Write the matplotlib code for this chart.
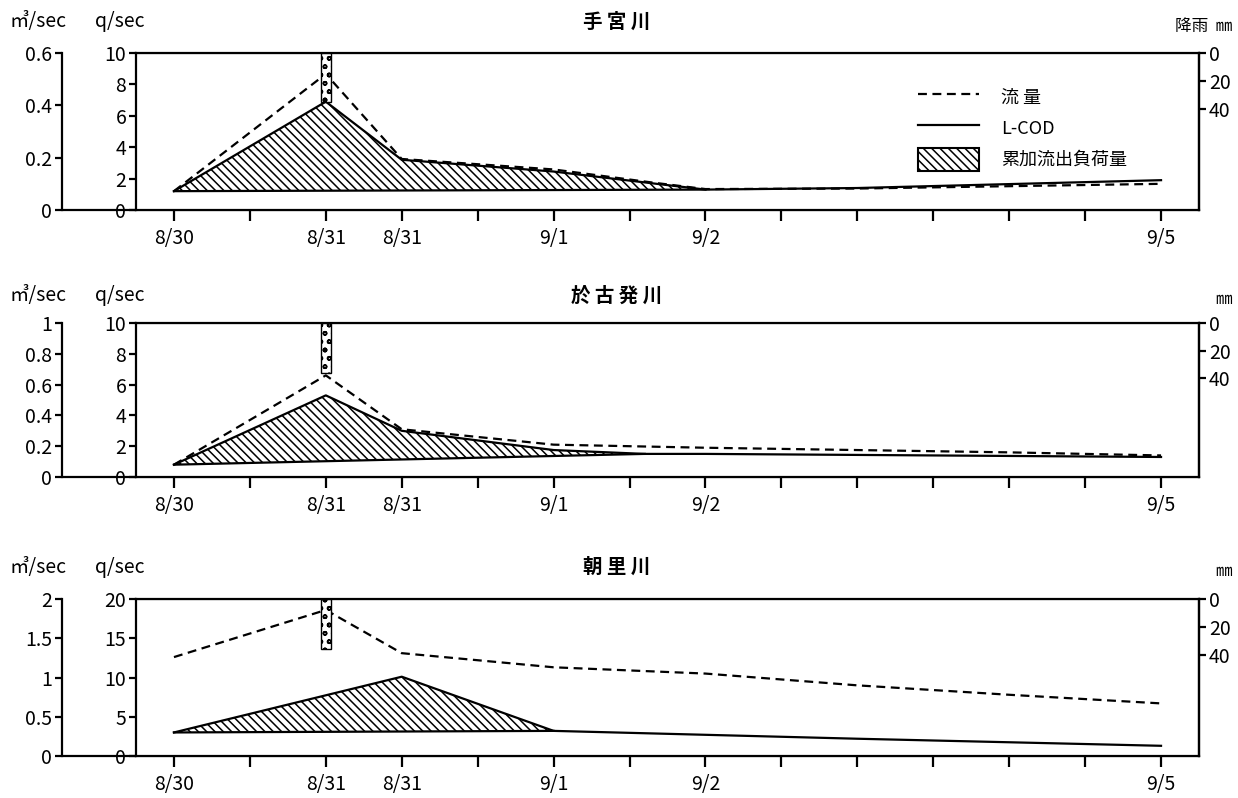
import matplotlib.pyplot as plt
import numpy as np
from matplotlib.lines import Line2D
from matplotlib.patches import Patch

plt.rcParams['font.family'] = ['Noto Sans CJK JP', 'DejaVu Sans']
plt.rcParams['hatch.linewidth'] = 1.1

# x positions are tick steps along the date axis (8/30 = 0 ... 9/5 = 13)
tick_pos = np.arange(14)
tick_labels = ['8/30', '', '8/31', '8/31', '', '9/1', '', '9/2',
               '', '', '', '', '', '9/5']

# 手宮川
temiya_cod_x = [0, 2, 3, 5, 6.3, 7, 9, 13]
temiya_cod = [1.2, 6.9, 3.2, 2.45, 1.7, 1.3, 1.4, 1.9]
temiya_base_x = [0, 7]
temiya_base = [1.2, 1.3]
temiya_flow_x = [0, 2, 3, 5, 6.3, 7, 9, 13]
temiya_flow = [0.072, 0.52, 0.195, 0.155, 0.105, 0.08, 0.082, 0.1]
temiya_rain = 35

# 於古発川
okoppe_cod_x = [0, 2, 3, 5, 6.2, 7, 10, 13]
okoppe_cod = [0.8, 5.3, 3.0, 1.75, 1.5, 1.5, 1.4, 1.3]
okoppe_base_x = [0, 6.2]
okoppe_base = [0.8, 1.5]
okoppe_flow_x = [0, 2, 3, 5, 7, 9, 11, 13]
okoppe_flow = [0.08, 0.66, 0.31, 0.21, 0.19, 0.175, 0.16, 0.14]
okoppe_rain = 36

# 朝里川
asari_cod_x = [0, 3, 5, 7, 9, 13]
asari_cod = [3.0, 10.1, 3.2, 2.7, 2.2, 1.3]
asari_base_x = [0, 5]
asari_base = [3.0, 3.2]
asari_flow_x = [0, 2, 3, 5, 7, 9, 11, 13]
asari_flow = [1.26, 1.86, 1.31, 1.13, 1.05, 0.9, 0.78, 0.67]
asari_rain = 36

rain_x = 2

W, H = 1238, 798
fig = plt.figure(figsize=(W / 100, H / 100), dpi=100)

LW = 1.6
TXT = 14


def panel(top, bottom, title, flow_max, flow_ticks, flow_labels, q_max, q_ticks,
          cod_x, cod, base_x, base, flow_x, flow, rain, rain_unit, title_y):
    left, right = 136, 1199
    ax = fig.add_axes([left / W, 1 - bottom / H, (right - left) / W, (bottom - top) / H])
    ax.set_xlim(-0.5, 13.5)
    ax.set_ylim(0, q_max)
    for s in ax.spines.values():
        s.set_linewidth(LW)

    # accumulated load: area between L-COD and the base line
    n = sum(1 for x in cod_x if x <= base_x[-1])
    px = list(cod_x[:n]) + list(base_x[::-1])
    py = list(cod[:n]) + list(base[::-1])
    ax.fill(px, py, facecolor='white', edgecolor='black', hatch='\\\\\\\\', lw=0)
    ax.plot(base_x, base, color='black', lw=LW)
    ax.plot(cod_x, cod, color='black', lw=LW)

    ax.set_xticks(tick_pos)
    ax.set_xticklabels(tick_labels, fontsize=TXT)
    ax.set_yticks(q_ticks)
    ax.set_yticklabels([str(v) for v in q_ticks], fontsize=TXT)
    ax.tick_params(axis='x', direction='out', length=8, width=LW, pad=5)
    ax.tick_params(axis='y', direction='out', length=5, width=LW, pad=2)

    # flow on the outer m3/sec axis, 74 px left of the plot frame
    axf = ax.twinx()
    axf.set_ylim(0, flow_max)
    axf.yaxis.tick_left()
    axf.spines['left'].set_position(('outward', 74 * 0.72))
    axf.spines['right'].set_visible(False)
    axf.spines['top'].set_visible(False)
    axf.spines['bottom'].set_visible(False)
    axf.spines['left'].set_linewidth(LW)
    axf.set_yticks(flow_ticks)
    axf.set_yticklabels(flow_labels, fontsize=TXT)
    axf.tick_params(axis='y', direction='out', length=5, width=LW, pad=2)
    axf.plot(flow_x, flow, color='black', lw=LW, linestyle=(0, (4, 2.5)))
    ax.plot([-74 / (right - left), 0], [0, 0], transform=ax.transAxes,
            color='black', lw=LW, clip_on=False, solid_capstyle='butt')

    # rainfall, hanging from the top
    axr = ax.twinx()
    axr.set_ylim(112, 0)
    axr.spines['left'].set_visible(False)
    axr.spines['right'].set_linewidth(LW)
    axr.set_yticks([0, 20, 40])
    axr.set_yticklabels(['0', '20', '40'], fontsize=TXT)
    axr.tick_params(axis='y', direction='out', length=5, width=LW, pad=2)
    axr.bar(rain_x, rain, width=0.13, bottom=0, facecolor='white',
            edgecolor='black', hatch='oo', lw=1.0)

    fig.text(617 / W, 1 - title_y / H, title, ha='center', va='center',
             fontsize=14, fontweight='bold')
    fig.text(10 / W, 1 - title_y / H, '㎥/sec', ha='left', va='center', fontsize=TXT)
    fig.text(95 / W, 1 - title_y / H, 'q/sec', ha='left', va='center', fontsize=TXT)
    fig.text(1232 / W, 1 - (title_y + 4) / H, rain_unit, ha='right', va='center',
             fontsize=12)
    return ax


ax1 = panel(53, 210, '手 宮 川', 0.6, [0, 0.2, 0.4, 0.6], ['0', '0.2', '0.4', '0.6'],
            10, [0, 2, 4, 6, 8, 10],
            temiya_cod_x, temiya_cod, temiya_base_x, temiya_base,
            temiya_flow_x, temiya_flow, temiya_rain, '降雨  ㎜', 22)
ax2 = panel(323, 477, '於 古 発 川', 1, [0, 0.2, 0.4, 0.6, 0.8, 1],
            ['0', '0.2', '0.4', '0.6', '0.8', '1'],
            10, [0, 2, 4, 6, 8, 10],
            okoppe_cod_x, okoppe_cod, okoppe_base_x, okoppe_base,
            okoppe_flow_x, okoppe_flow, okoppe_rain, '㎜', 296)
ax3 = panel(599, 756, '朝 里 川', 2, [0, 0.5, 1, 1.5, 2], ['0', '0.5', '1', '1.5', '2'],
            20, [0, 5, 10, 15, 20],
            asari_cod_x, asari_cod, asari_base_x, asari_base,
            asari_flow_x, asari_flow, asari_rain, '㎜', 567)

handles = [Line2D([], [], color='black', lw=LW, linestyle=(0, (4, 2.5))),
           Line2D([], [], color='black', lw=LW),
           Patch(facecolor='white', edgecolor='black', hatch='\\\\\\\\', lw=1.5)]
ax1.legend(handles, ['流 量', 'L-COD', '累加流出負荷量'], loc='upper left',
           bbox_to_anchor=(0.72, 0.9), frameon=False, fontsize=13,
           handlelength=3.4, handleheight=1.6, labelspacing=0.45, handletextpad=1.2)

fig.savefig('out.png', dpi=100)
